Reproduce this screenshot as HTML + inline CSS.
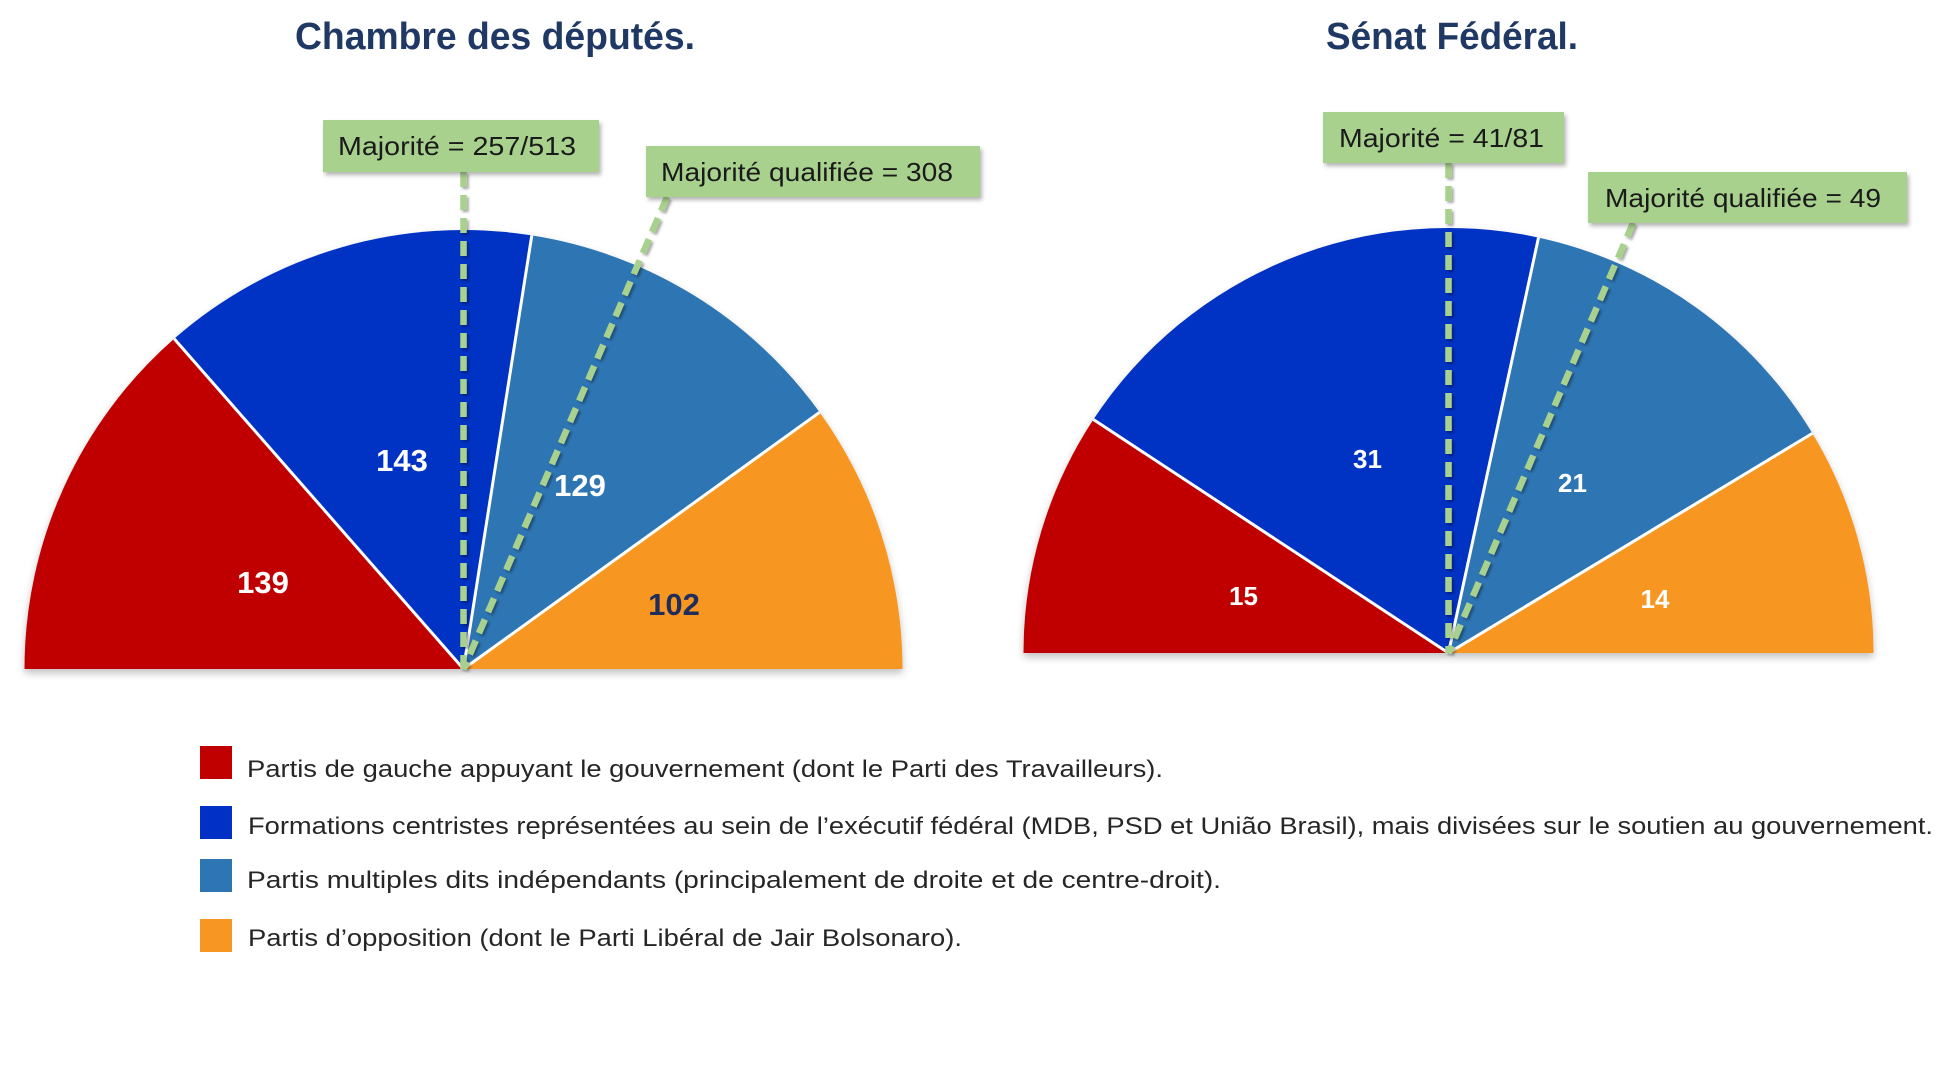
<!DOCTYPE html>
<html>
<head>
<meta charset="utf-8">
<style>
  html,body{margin:0;padding:0;background:#fff;}
  svg{display:block;}
  text{font-family:"Liberation Sans",sans-serif;}
</style>
</head>
<body>
<svg width="1938" height="1074" viewBox="0 0 1938 1074" xmlns="http://www.w3.org/2000/svg">
  <defs>
    <filter id="pieSh" x="-10%" y="-10%" width="120%" height="130%">
      <feDropShadow dx="0" dy="4" stdDeviation="4" flood-color="#000" flood-opacity="0.25"/>
    </filter>
    <filter id="boxSh" x="-10%" y="-20%" width="125%" height="160%">
      <feDropShadow dx="2" dy="3" stdDeviation="2" flood-color="#000" flood-opacity="0.3"/>
    </filter>
    <filter id="lnSh" x="-50%" y="-5%" width="200%" height="110%">
      <feDropShadow dx="2" dy="2" stdDeviation="1.2" flood-color="#000" flood-opacity="0.35"/>
    </filter>
  </defs>
  <rect width="1938" height="1074" fill="#fff"/>

  <!-- Titles -->
  <text x="295" y="49" font-size="38" font-weight="bold" fill="#1f3864" textLength="400" lengthAdjust="spacingAndGlyphs">Chambre des députés.</text>
  <text x="1326" y="49" font-size="38" font-weight="bold" fill="#1f3864" textLength="252" lengthAdjust="spacingAndGlyphs">Sénat Fédéral.</text>

  <!-- Chambre pie -->
  <g filter="url(#pieSh)">
    <path d="M463.5,669 L24.5,669 A439,439 0 0 1 174.2,338.8 Z" fill="#c00000"/>
    <path d="M463.5,669 L174.2,338.8 A439,439 0 0 1 531.8,235.4 Z" fill="#0031c4"/>
    <path d="M463.5,669 L531.8,235.4 A439,439 0 0 1 819.6,412.3 Z" fill="#2e75b4"/>
    <path d="M463.5,669 L819.6,412.3 A439,439 0 0 1 902.5,669 Z" fill="#f89624"/>
  </g>
  <g stroke="#fff" stroke-width="3">
    <line x1="463.5" y1="669" x2="174.2" y2="338.8"/>
    <line x1="463.5" y1="669" x2="531.8" y2="235.4"/>
    <line x1="463.5" y1="669" x2="819.6" y2="412.3"/>
  </g>

  <!-- Senat pie -->
  <g filter="url(#pieSh)">
    <path d="M1448.5,653 L1023.5,653 A425,425 0 0 1 1093.4,419.5 Z" fill="#c00000"/>
    <path d="M1448.5,653 L1093.4,419.5 A425,425 0 0 1 1538.5,237.6 Z" fill="#0031c4"/>
    <path d="M1448.5,653 L1538.5,237.6 A425,425 0 0 1 1812.4,433.4 Z" fill="#2e75b4"/>
    <path d="M1448.5,653 L1812.4,433.4 A425,425 0 0 1 1873.5,653 Z" fill="#f89624"/>
  </g>
  <g stroke="#fff" stroke-width="3">
    <line x1="1448.5" y1="653" x2="1093.4" y2="419.5"/>
    <line x1="1448.5" y1="653" x2="1538.5" y2="237.6"/>
    <line x1="1448.5" y1="653" x2="1812.4" y2="433.4"/>
  </g>

  <!-- Data labels -->
  <g font-weight="bold" text-anchor="middle">
    <text x="402" y="471" font-size="31" fill="#fff">143</text>
    <text x="263" y="593" font-size="31" fill="#fff">139</text>
    <text x="580" y="496" font-size="31" fill="#fff">129</text>
    <text x="674" y="615" font-size="31" fill="#1f2d5c">102</text>
    <text x="1367.5" y="468" font-size="26" fill="#fff">31</text>
    <text x="1243.5" y="605" font-size="26" fill="#fff">15</text>
    <text x="1572.5" y="492" font-size="26" fill="#fff">21</text>
    <text x="1655" y="608" font-size="26" fill="#fff">14</text>
  </g>

  <!-- Dashed lines -->
  <g stroke="#a9d18e" stroke-width="6.5" stroke-dasharray="15 8" fill="none" filter="url(#lnSh)">
    <line x1="463.5" y1="172" x2="463.5" y2="669"/>
    <line x1="667" y1="197" x2="463.5" y2="669"/>
    <line x1="1448.5" y1="163" x2="1448.5" y2="653"/>
    <line x1="1633" y1="223" x2="1448.5" y2="653"/>
  </g>

  <!-- Label boxes -->
  <g filter="url(#boxSh)" fill="#a9d18e">
    <rect x="323" y="120" width="276" height="52"/>
    <rect x="646" y="146" width="334" height="51"/>
    <rect x="1323" y="112" width="241" height="51"/>
    <rect x="1588" y="172" width="319" height="51"/>
  </g>
  <g font-size="26" fill="#1a1a1a">
    <text x="338" y="155" textLength="238" lengthAdjust="spacingAndGlyphs">Majorité = 257/513</text>
    <text x="661" y="181" textLength="292" lengthAdjust="spacingAndGlyphs">Majorité qualifiée = 308</text>
    <text x="1339" y="147" textLength="205" lengthAdjust="spacingAndGlyphs">Majorité = 41/81</text>
    <text x="1605" y="207" textLength="276" lengthAdjust="spacingAndGlyphs">Majorité qualifiée = 49</text>
  </g>

  <!-- Legend -->
  <rect x="200" y="746" width="32" height="33" fill="#c00000"/>
  <rect x="200" y="806" width="32" height="33" fill="#0031c4"/>
  <rect x="200" y="859" width="32" height="33" fill="#2e75b4"/>
  <rect x="200" y="919" width="32" height="33" fill="#f89624"/>
  <g font-size="24" fill="#262626">
    <text x="247" y="777" textLength="916" lengthAdjust="spacingAndGlyphs">Partis de gauche appuyant le gouvernement (dont le Parti des Travailleurs).</text>
    <text x="248" y="834" textLength="1685" lengthAdjust="spacingAndGlyphs">Formations centristes représentées au sein de l’exécutif fédéral (MDB, PSD et União Brasil), mais divisées sur le soutien au gouvernement.</text>
    <text x="247" y="888" textLength="974" lengthAdjust="spacingAndGlyphs">Partis multiples dits indépendants (principalement de droite et de centre-droit).</text>
    <text x="248" y="946" textLength="714" lengthAdjust="spacingAndGlyphs">Partis d’opposition (dont le Parti Libéral de Jair Bolsonaro).</text>
  </g>
</svg>
</body>
</html>
